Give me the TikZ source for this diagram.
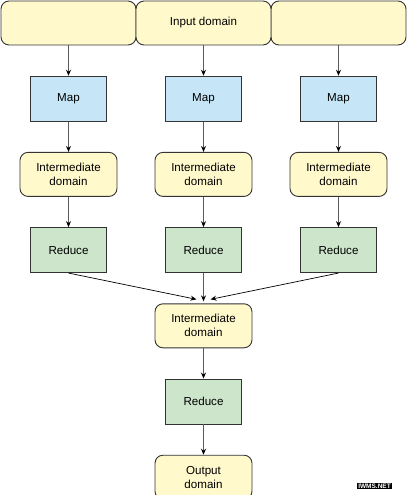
\documentclass[tikz,border=0pt]{standalone}
\usepackage{fontspec}
\setmainfont{Liberation Sans}
\usetikzlibrary{arrows.meta, positioning}
\definecolor{domfill}{HTML}{FFF9CC}
\definecolor{mapfill}{HTML}{C6E6F7}
\definecolor{redfill}{HTML}{CDE6CB}
\definecolor{edgegray}{HTML}{333333}
\definecolor{arrgray}{HTML}{5A5A5A}

\begin{document}
\begin{tikzpicture}[
  x=1pt, y=1pt,
  node distance = 30.3pt,
  font          = \fontsize{11.6}{14}\selectfont,
  dombox/.style = {draw=edgegray, line width=0.9pt, fill=domfill, rounded corners=8pt,
                   minimum width=97pt, minimum height=44pt, inner sep=0pt, align=center},
  inbox/.style  = {dombox, minimum width=135pt},
  stage/.style  = {draw=edgegray, line width=0.9pt, minimum width=76pt,
                   minimum height=45pt, inner sep=0pt},
  mapbox/.style = {stage, fill=mapfill},
  redbox/.style = {stage, fill=redfill},
  arrow/.style  = {-{Stealth[length=6pt, width=5pt, black]}, draw=arrgray, line width=1.1pt},
  merge/.style  = {-{Stealth[length=6pt, width=5pt, black]}, draw=black, line width=0.7pt}
]
  \useasboundingbox (0,0) rectangle (408,-495);

  % input domain
  \node[inbox] (inL) at (68.5,-23)  {};
  \node[inbox] (inR) at (338.5,-23) {};
  \node[inbox] (inM) at (203.5,-23) {Input domain};

  % three columns
  \node[mapbox, below=of inL]   (mapL)   {Map};
  \node[mapbox, below=of inM]   (mapM)   {Map};
  \node[mapbox, below=of inR]   (mapR)   {Map};
  \node[dombox, below=of mapL]  (interL) {Intermediate\\domain};
  \node[dombox, below=of mapM]  (interM) {Intermediate\\domain};
  \node[dombox, below=of mapR]  (interR) {Intermediate\\domain};
  \node[redbox, below=of interL] (redL)  {Reduce};
  \node[redbox, below=of interM] (redM)  {Reduce};
  \node[redbox, below=of interR] (redR)  {Reduce};

  % final stage
  \node[dombox, below=of redM]   (interF) {Intermediate\\domain};
  \node[redbox, below=of interF] (redF)   {Reduce};
  \node[dombox, below=of redF]   (out)    {Output\\domain};

  \node[fill=black, text=white, inner sep=1pt,
        font=\fontsize{6.5}{6.5}\selectfont\bfseries] (mark) at (374.5,-486) {IWMS.NET};

  \draw[arrow] (inL) -- (mapL);
  \draw[arrow] (inM) -- (mapM);
  \draw[arrow] (inR) -- (mapR);
  \draw[arrow] (mapL) -- (interL);
  \draw[arrow] (mapM) -- (interM);
  \draw[arrow] (mapR) -- (interR);
  \draw[arrow] (interL) -- (redL);
  \draw[arrow] (interM) -- (redM);
  \draw[arrow] (interR) -- (redR);
  \draw[merge] (redL.south) -- ([xshift=-7pt, yshift=4pt]interF.north);
  \draw[merge] (redR.south) -- ([xshift=7pt, yshift=4pt]interF.north);
  \draw[arrow, shorten >=2pt] (redM) -- (interF);
  \draw[arrow] (interF) -- (redF);
  \draw[arrow] (redF) -- (out);
\end{tikzpicture}
\end{document}
